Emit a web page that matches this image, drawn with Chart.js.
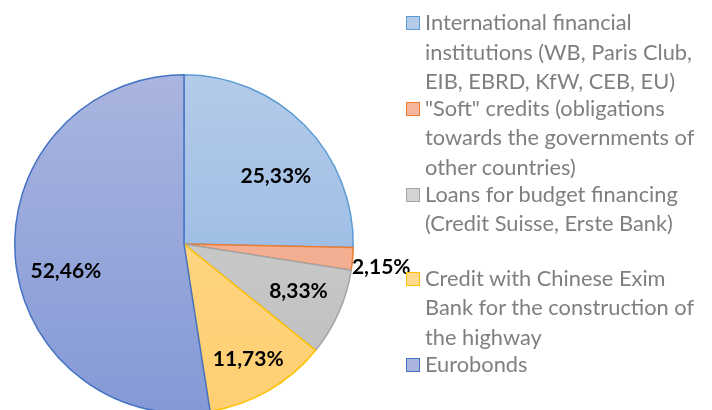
<!DOCTYPE html>
<html>
<head>
<meta charset="utf-8">
<script src="https://cdn.jsdelivr.net/npm/chart.js@4"></script>
<style>
  html, body { margin: 0; padding: 0; background: #fff; overflow: hidden; }
  #wrap { position: relative; width: 712px; height: 410px; overflow: hidden; }
  #chart { position: absolute; left: 0; top: 0; }
  #legend {
    position: absolute; left: 406px; top: 7px; width: 306px;
    font-family: Lato, "Open Sans", sans-serif; font-size: 21.8px; color: #7f7f7f;
    line-height: 29.6px; white-space: nowrap;
  }
  .item { position: relative; padding-left: 19px; margin-bottom: -3px; }
  .item:nth-child(4) { margin-top: 28px; }
  .box { position: absolute; left: 0; top: 9px; width: 12px; height: 12px; border: 1px solid; }
</style>
</head>
<body>
<div id="wrap">
  <canvas id="chart" width="712" height="424"></canvas>
  <div id="legend"></div>
</div>
<script>
// Debt structure (shares, %)
const categories = [
    ['International financial', 'institutions (WB, Paris Club,', 'EIB, EBRD, KfW, CEB, EU)'],
    ['"Soft" credits (obligations', 'towards the governments of', 'other countries)'],
    ['Loans for budget financing', '(Credit Suisse, Erste Bank)'],
    ['Credit with Chinese Exim', 'Bank for the construction of', 'the highway'],
    ['Eurobonds']
];
const shares = [25.33, 2.15, 8.33, 11.73, 52.46];

const fillTop = ['#b4cbe9', '#f5b59c', '#d3d3d3', '#ffda8e', '#aab5df'];
const fillBottom = ['#8db3e2', '#f3a98a', '#bdbdbd', '#fecf72', '#8499d6'];
const borders = ['#5b9bd5', '#ed7d31', '#a5a5a5', '#ffc000', '#4472c4'];

// html legend
const legendEl = document.getElementById('legend');
legendEl.innerHTML = categories.map((lines, i) => `
    <div class="item">
        <span class="box" style="background:${fillTop[i]};border-color:${borders[i]}"></span>
        ${lines.join('<br>')}
    </div>
`).join('');

// label placement (radius factor, extra y shift) per slice, like Excel's best fit
const labelPlace = [[0.76, 22], [1.17, 6], [0.74, -4], [0.76, 4], [0.7, 18]];

// percent labels drawn on the slices
const sliceLabels = {
    id: 'sliceLabels',
    afterDatasetsDraw(chart) {
        const ctx = chart.ctx;
        const meta = chart.getDatasetMeta(0);
        ctx.save();
        ctx.font = 'bold 21px Lato, "Open Sans", sans-serif';
        ctx.fillStyle = '#000';
        ctx.textAlign = 'center';
        ctx.textBaseline = 'middle';
        meta.data.forEach((arc, i) => {
            const mid = (arc.startAngle + arc.endAngle) / 2;
            const [k, dy] = labelPlace[i];
            const r = arc.outerRadius * k;
            const x = arc.x + Math.cos(mid) * r;
            const y = arc.y + Math.sin(mid) * r + dy;
            ctx.fillText(shares[i].toFixed(2).replace('.', ',') + '%', x, y);
        });
        ctx.restore();
    }
};

function gradientFill(context) {
    const chart = context.chart;
    const area = chart.chartArea;
    if (!area) return fillTop[context.dataIndex];
    const g = chart.ctx.createLinearGradient(0, area.top, 0, area.bottom);
    g.addColorStop(0, fillTop[context.dataIndex]);
    g.addColorStop(1, fillBottom[context.dataIndex]);
    return g;
}

new Chart(document.getElementById('chart'), {
    type: 'pie',
    data: {
        labels: categories.map(l => l.join(' ')),
        datasets: [{
            data: shares,
            backgroundColor: gradientFill,
            borderColor: borders,
            borderWidth: 1.5
        }]
    },
    options: {
        responsive: false,
        animation: false,
        layout: {
            padding: { left: 14, top: 74, right: 358, bottom: 10 }
        },
        plugins: {
            legend: { display: false },
            tooltip: { enabled: false }
        }
    },
    plugins: [sliceLabels]
});
</script>
</body>
</html>
